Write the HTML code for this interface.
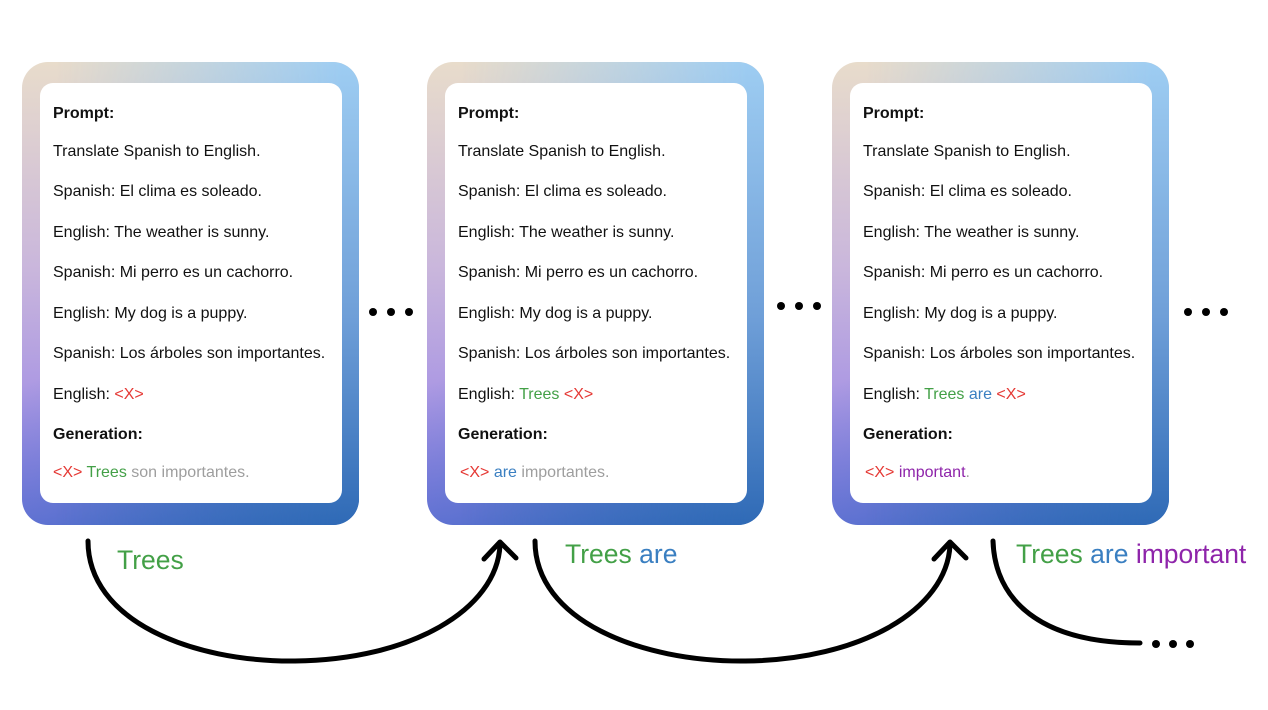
<!DOCTYPE html>
<html><head><style>
body{margin:0;width:1268px;height:710px;background:#fff;position:relative;overflow:hidden;font-family:"Liberation Sans",Arial,sans-serif}
.card{position:absolute;top:62px;width:337px;height:463px;border-radius:26px;
background:linear-gradient(160deg,rgba(0,0,0,0) 55%,rgba(47,107,184,0.9) 100%),linear-gradient(to bottom,#e8dccb 0%,#c9b6dc 45%,#8c78ea 100%);overflow:hidden}
.card:before{content:"";position:absolute;inset:0;background:linear-gradient(to bottom,#9ecdf2 0%,#6f9fd8 55%,#2f6ab6 100%);-webkit-mask:linear-gradient(to right,transparent 10%,#000 95%);mask:linear-gradient(to right,transparent 10%,#000 95%)}
.in{position:absolute;left:18px;top:21px;width:302px;height:420px;background:#fff;border-radius:13px;font-size:16px;color:#111}
.in div{position:absolute;left:13px;white-space:nowrap}
b{font-weight:bold}
.r{color:#e53935}.g{color:#43a047}.bl{color:#3a7fc1}.p{color:#8e24aa}.gr{color:#9e9e9e}
.dot{position:absolute;width:8px;height:8px;border-radius:50%;background:#000}
.lbl{position:absolute;font-size:26.5px;white-space:nowrap}
</style></head><body>

<div class="card" style="left:22px"><div class="in">
<div style="top:22px"><b>Prompt:</b></div>
<div style="top:60px">Translate Spanish to English.</div>
<div style="top:100px">Spanish: El clima es soleado.</div>
<div style="top:141px">English: The weather is sunny.</div>
<div style="top:181px">Spanish: Mi perro es un cachorro.</div>
<div style="top:222px">English: My dog is a puppy.</div>
<div style="top:262px">Spanish: Los árboles son importantes.</div>
<div style="top:303px">English: <span class="r">&lt;X&gt;</span></div>
<div style="top:343px"><b>Generation:</b></div>
<div style="top:381px"><span class="r">&lt;X&gt;</span> <span class="g">Trees</span> <span class="gr">son importantes.</span></div>
</div></div>

<div class="card" style="left:427px"><div class="in">
<div style="top:22px"><b>Prompt:</b></div>
<div style="top:60px">Translate Spanish to English.</div>
<div style="top:100px">Spanish: El clima es soleado.</div>
<div style="top:141px">English: The weather is sunny.</div>
<div style="top:181px">Spanish: Mi perro es un cachorro.</div>
<div style="top:222px">English: My dog is a puppy.</div>
<div style="top:262px">Spanish: Los árboles son importantes.</div>
<div style="top:303px">English: <span class="g">Trees</span> <span class="r">&lt;X&gt;</span></div>
<div style="top:343px"><b>Generation:</b></div>
<div style="top:381px;left:15px"><span class="r">&lt;X&gt;</span> <span class="bl">are</span> <span class="gr">importantes.</span></div>
</div></div>

<div class="card" style="left:832px"><div class="in">
<div style="top:22px"><b>Prompt:</b></div>
<div style="top:60px">Translate Spanish to English.</div>
<div style="top:100px">Spanish: El clima es soleado.</div>
<div style="top:141px">English: The weather is sunny.</div>
<div style="top:181px">Spanish: Mi perro es un cachorro.</div>
<div style="top:222px">English: My dog is a puppy.</div>
<div style="top:262px">Spanish: Los árboles son importantes.</div>
<div style="top:303px">English: <span class="g">Trees</span> <span class="bl">are</span> <span class="r">&lt;X&gt;</span></div>
<div style="top:343px"><b>Generation:</b></div>
<div style="top:381px;left:15px"><span class="r">&lt;X&gt;</span> <span class="p">important</span><span class="gr">.</span></div>
</div></div>

<div class="dot" style="left:369px;top:308px"></div><div class="dot" style="left:387px;top:308px"></div><div class="dot" style="left:405px;top:308px"></div>
<div class="dot" style="left:777px;top:302px"></div><div class="dot" style="left:795px;top:302px"></div><div class="dot" style="left:813px;top:302px"></div>
<div class="dot" style="left:1184px;top:308px"></div><div class="dot" style="left:1202px;top:308px"></div><div class="dot" style="left:1220px;top:308px"></div>
<div class="dot" style="left:1152px;top:640px"></div><div class="dot" style="left:1169px;top:640px"></div><div class="dot" style="left:1186px;top:640px"></div>

<svg width="1268" height="710" style="position:absolute;left:0;top:0" fill="none" stroke="#000" stroke-width="5" stroke-linecap="round" stroke-linejoin="round">
<path d="M88 541 C88 620 190 662 295 661 C410 660 497 610 500 545"/>
<path d="M484 559 L500 542 L516 558"/>
<path d="M535 541 C535 620 640 662 745 661 C860 660 947 610 950 545"/>
<path d="M934 559 L950 542 L966 558"/>
<path d="M993 541 C995 600 1040 643 1140 643"/>
</svg>

<div class="lbl g" style="left:117px;top:545px">Trees</div>
<div class="lbl" style="left:565px;top:539px"><span class="g">Trees</span> <span class="bl">are</span></div>
<div class="lbl" style="left:1016px;top:539px"><span class="g">Trees</span> <span class="bl">are</span> <span class="p">important</span></div>
</body></html>
